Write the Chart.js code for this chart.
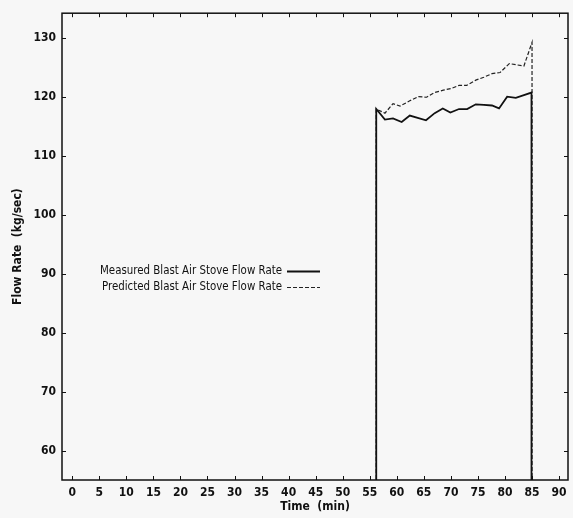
<!DOCTYPE html>
<html>
<head>
<meta charset="utf-8">
<script src="https://cdn.jsdelivr.net/npm/chart.js@4.4.1/dist/chart.umd.min.js"></script>
<style>
  html, body { margin: 0; padding: 0; background: #f7f7f7; }
  #wrap { width: 573px; height: 518px; }
</style>
</head>
<body>
<div id="wrap"><canvas id="flowChart" width="573" height="518"></canvas></div>
<script>
// data (time in min, flow in kg/sec); 0 = stove off (below the axis)
var measuredTime = [0, 56.2, 56.2, 57.8, 59.3, 60.9, 62.4, 65.4, 67.0, 68.5, 69.9, 71.5, 73.0, 74.6, 76.1, 77.6, 78.9, 80.4, 82.0, 84.9, 84.9, 92];
var measuredFlow = [0, 0, 118.0, 116.2, 116.4, 115.8, 116.9, 116.1, 117.3, 118.1, 117.4, 118.0, 118.0, 118.8, 118.7, 118.6, 118.1, 120.1, 119.9, 120.8, 0, 0];

var predictedTime = [0, 56.2, 56.2, 57.8, 59.3, 60.6, 62.4, 64.0, 65.5, 67.0, 68.6, 70.1, 71.5, 72.9, 74.6, 76.1, 77.6, 79.1, 80.8, 82.1, 83.5, 85.0, 85.0, 92];
var predictedFlow = [0, 0, 118.0, 117.3, 118.9, 118.5, 119.4, 120.1, 120.0, 120.8, 121.2, 121.5, 122.0, 122.0, 122.9, 123.4, 124.0, 124.2, 125.7, 125.5, 125.3, 129.3, 0, 0];

var xTicks = [0, 5, 10, 15, 20, 25, 30, 35, 40, 45, 50, 55, 60, 65, 70, 75, 80, 85, 90];
var yTicks = [60, 70, 80, 90, 100, 110, 120, 130];
var seriesNames = ['Measured Blast Air Stove Flow Rate', 'Predicted Blast Air Stove Flow Rate'];

function toPoints(xs, ys) {
  return xs.map(function(x, i) { return { x: x, y: ys[i] }; });
}

var FONT = "'DejaVu Sans Condensed', 'Liberation Sans', Arial, sans-serif";

// frame with inward ticks on all four sides
var framePlugin = {
  id: 'frame',
  afterDraw: function(chart) {
    var ctx = chart.ctx, a = chart.chartArea;
    var xs = chart.scales.x, ys = chart.scales.y;
    ctx.save();
    ctx.strokeStyle = '#111';
    ctx.lineWidth = 1.5;
    ctx.strokeRect(a.left, a.top, a.right - a.left, a.bottom - a.top);
    ctx.lineWidth = 1;
    ctx.beginPath();
    xs.ticks.forEach(function(t) {
      var px = Math.round(xs.getPixelForValue(t.value)) + 0.5;
      ctx.moveTo(px, a.bottom); ctx.lineTo(px, a.bottom - 4);
      ctx.moveTo(px, a.top); ctx.lineTo(px, a.top + 4);
    });
    ys.ticks.forEach(function(t) {
      var py = Math.round(ys.getPixelForValue(t.value)) + 0.5;
      ctx.moveTo(a.left, py); ctx.lineTo(a.left + 4, py);
      ctx.moveTo(a.right, py); ctx.lineTo(a.right - 4, py);
    });
    ctx.stroke();

    // legend: text then line sample, inside the plot
    ctx.font = '13px ' + FONT;
    ctx.fillStyle = '#111';
    ctx.textAlign = 'right';
    ctx.textBaseline = 'middle';
    var squeeze = Math.min(1, 182 / ctx.measureText(seriesNames[0]).width);
    chart.data.datasets.forEach(function(ds, i) {
      var y = 271 + i * 16;
      ctx.save();
      ctx.translate(282, y);
      ctx.scale(squeeze, 1);
      ctx.fillText(ds.label, 0, 0);
      ctx.restore();
      ctx.beginPath();
      ctx.setLineDash(ds.borderDash || []);
      ctx.lineWidth = ds.borderWidth;
      ctx.strokeStyle = ds.borderColor;
      ctx.moveTo(287, y + 0.5); ctx.lineTo(320, y + 0.5);
      ctx.stroke();
    });
    ctx.restore();
  }
};

var ctx = document.getElementById('flowChart').getContext('2d');
var flowChart = new Chart(ctx, {
  type: 'line',
  data: {
    datasets: [{
      label: seriesNames[0],
      data: toPoints(measuredTime, measuredFlow),
      borderColor: '#111',
      borderWidth: 1.8,
      pointRadius: 0,
      tension: 0,
      fill: false
    }, {
      label: seriesNames[1],
      data: toPoints(predictedTime, predictedFlow),
      borderColor: '#222',
      borderWidth: 1.2,
      borderDash: [4, 2],
      pointRadius: 0,
      tension: 0,
      fill: false
    }]
  },
  options: {
    responsive: false,
    animation: false,
    layout: { padding: { top: 9, right: 5, left: 0, bottom: 0 } },
    plugins: {
      legend: { display: false },
      tooltip: { enabled: false }
    },
    scales: {
      x: {
        type: 'linear',
        min: -1.9,
        max: 91.65,
        afterBuildTicks: function(scale) {
          scale.ticks = xTicks.map(function(v) { return { value: v }; });
        },
        afterFit: function(scale) { scale.height = 38; },
        grid: { display: false, drawTicks: false },
        border: { display: false },
        ticks: { color: '#111', padding: 6, maxRotation: 0, autoSkip: false, font: { family: FONT, size: 12, weight: 'bold' } },
        title: { display: true, text: 'Time  (min)', color: '#111', padding: { top: 0, bottom: 4 }, font: { family: FONT, size: 12, weight: 'bold' } }
      },
      y: {
        type: 'linear',
        min: 55.1,
        max: 134.25,
        afterBuildTicks: function(scale) {
          scale.ticks = yTicks.map(function(v) { return { value: v }; });
        },
        afterFit: function(scale) { scale.width = 62; },
        grid: { display: false, drawTicks: false },
        border: { display: false },
        ticks: { color: '#111', padding: 6, font: { family: FONT, size: 12, weight: 'bold' } },
        title: { display: true, text: 'Flow Rate  (kg/sec)', color: '#111', padding: { top: 11, bottom: 0 }, font: { family: FONT, size: 12, weight: 'bold' } }
      }
    }
  },
  plugins: [framePlugin]
});
</script>
</body>
</html>
